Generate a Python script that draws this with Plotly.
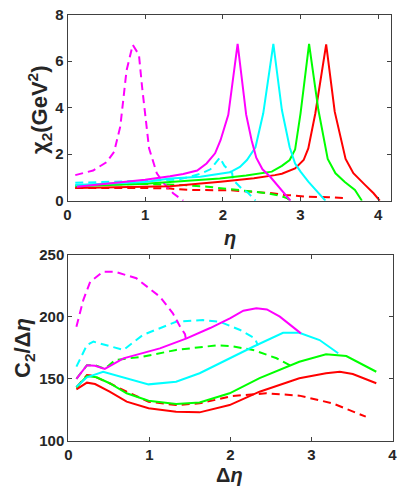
import plotly.graph_objects as go

# ---------------- top panel data (eta, chi2) ----------------
top_red_solid_x = [0.1, 0.5, 1.0, 1.32, 1.97, 2.4, 2.67, 2.76, 2.93, 3.04, 3.10, 3.19, 3.33, 3.44, 3.58, 3.68, 3.83, 3.94, 4.02]
top_red_solid_y = [0.55, 0.57, 0.6, 0.62, 0.82, 0.97, 1.1, 1.16, 1.39, 1.75, 2.25, 3.75, 6.72, 3.83, 1.8, 1.18, 0.68, 0.32, 0.0]

top_green_solid_x = [0.1, 0.5, 1.0, 1.32, 1.96, 2.3, 2.63, 2.76, 2.86, 2.93, 3.0, 3.11, 3.23, 3.35, 3.45, 3.57, 3.70, 3.79]
top_green_solid_y = [0.62, 0.66, 0.73, 0.8, 0.96, 1.08, 1.25, 1.5, 1.75, 2.2, 3.76, 6.74, 3.9, 1.8, 1.18, 0.8, 0.46, 0.0]

top_cyan_solid_x = [0.1, 0.5, 1.0, 1.32, 1.71, 2.09, 2.22, 2.31, 2.42, 2.52, 2.65, 2.76, 2.86, 2.93, 3.0, 3.10, 3.23, 3.32]
top_cyan_solid_y = [0.68, 0.72, 0.8, 0.95, 1.03, 1.22, 1.45, 1.75, 2.3, 3.76, 6.74, 3.9, 2.3, 1.6, 1.25, 0.82, 0.32, 0.0]

top_magenta_solid_x = [0.12, 0.5, 1.0, 1.32, 1.49, 1.67, 1.79, 1.90, 1.97, 2.07, 2.19, 2.30, 2.37, 2.43, 2.51, 2.61, 2.69, 2.80, 2.87]
top_magenta_solid_y = [0.6, 0.72, 0.9, 1.05, 1.15, 1.3, 1.6, 2.04, 2.6, 3.69, 6.74, 3.7, 2.6, 1.85, 1.35, 1.03, 0.7, 0.25, 0.0]

top_red_dash_x = [0.1, 0.5, 1.0, 1.32, 1.58, 2.09, 2.35, 2.61, 2.8, 3.1, 3.36, 3.6]
top_red_dash_y = [0.55, 0.56, 0.55, 0.52, 0.46, 0.45, 0.39, 0.33, 0.25, 0.17, 0.15, 0.1]

top_green_dash_x = [0.1, 0.5, 1.0, 1.5, 1.8, 2.09, 2.31, 2.57, 2.75, 2.83, 2.87]
top_green_dash_y = [0.65, 0.7, 0.72, 0.67, 0.6, 0.48, 0.42, 0.32, 0.2, 0.1, 0.0]

top_cyan_dash_x = [0.1, 0.5, 1.0, 1.4, 1.58, 1.73, 1.84, 1.96, 2.02, 2.12, 2.13, 2.24, 2.33, 2.42]
top_cyan_dash_y = [0.77, 0.8, 0.85, 0.9, 1.03, 1.18, 1.35, 1.85, 1.5, 1.18, 0.9, 0.53, 0.32, 0.0]

top_magenta_dash_x = [0.1, 0.33, 0.5, 0.6, 0.68, 0.76, 0.84, 0.92, 0.96, 1.0, 1.05, 1.15, 1.24, 1.36, 1.49]
top_magenta_dash_y = [1.1, 1.3, 1.65, 2.1, 3.2, 5.6, 6.7, 6.27, 4.9, 3.6, 2.25, 1.18, 0.75, 0.32, 0.0]

# ---------------- bottom panel data (delta eta, C2/delta eta) ----------------
bot_red_solid_x = [0.1, 0.23, 0.33, 0.51, 0.72, 0.99, 1.33, 1.62, 1.99, 2.36, 2.85, 3.18, 3.35, 3.51, 3.8]
bot_red_solid_y = [141.5, 146.9, 145.8, 139.6, 131.5, 126.2, 123.4, 122.9, 128.8, 139.6, 150.4, 154.5, 155.7, 153.9, 146.4]

bot_green_solid_x = [0.1, 0.23, 0.35, 0.51, 0.72, 0.99, 1.33, 1.62, 1.99, 2.36, 2.85, 3.18, 3.43, 3.8]
bot_green_solid_y = [143.0, 152.3, 151.2, 146.4, 138.3, 132.3, 129.6, 130.8, 138.3, 150.5, 163.8, 169.8, 168.4, 155.7]

bot_cyan_solid_x = [0.1, 0.23, 0.43, 0.72, 0.99, 1.33, 1.62, 1.95, 2.28, 2.65, 2.85, 3.10, 3.33]
bot_cyan_solid_y = [143.6, 151.2, 155.7, 150.4, 145.5, 147.7, 154.5, 165.2, 175.9, 187.2, 187.2, 181.3, 170.6]

bot_magenta_solid_x = [0.1, 0.23, 0.33, 0.45, 0.68, 1.13, 1.46, 1.75, 2.0, 2.16, 2.32, 2.45, 2.61, 2.87]
bot_magenta_solid_y = [150.0, 161.0, 160.5, 158.0, 166.5, 174.6, 182.7, 191.0, 199.0, 205.0, 207.0, 206.0, 200.2, 186.7]

bot_red_dash_x = [0.1, 0.23, 0.3, 0.51, 0.72, 0.99, 1.33, 1.62, 2.03, 2.44, 2.85, 3.26, 3.67]
bot_red_dash_y = [143.0, 153.0, 152.5, 146.4, 139.6, 131.5, 128.8, 130.2, 136.1, 138.3, 136.4, 130.2, 119.4]

bot_green_dash_x = [0.1, 0.23, 0.33, 0.45, 0.58, 0.92, 1.33, 1.83, 2.0, 2.28, 2.57, 2.75, 2.76]
bot_green_dash_y = [150.0, 161.0, 161.0, 158.0, 165.2, 167.9, 173.3, 177.0, 176.5, 173.3, 166.6, 160.3, 157.5]

bot_cyan_dash_x = [0.1, 0.23, 0.31, 0.68, 0.92, 1.33, 1.66, 1.87, 2.12, 2.30, 2.34]
bot_cyan_dash_y = [159.8, 177.3, 180.0, 173.3, 185.4, 196.1, 197.5, 196.1, 189.4, 182.7, 177.0]

bot_magenta_dash_x = [0.1, 0.185, 0.27, 0.43, 0.575, 0.84, 1.13, 1.29, 1.38, 1.44, 1.45]
bot_magenta_dash_y = [192.1, 213.6, 228.4, 236.5, 236.5, 231.2, 216.3, 202.9, 192.1, 186.0, 182.5]

x_ticks = [0, 1, 2, 3, 4]
top_y_ticks = [0, 2, 4, 6, 8]
bot_y_ticks = [100, 150, 200, 250]

RED, GREEN, CYAN, MAGENTA = "#FF0000", "#00FF00", "#00FFFF", "#FF00FF"
DASH = "8px,5px"
LW = 2

fig = go.Figure()

def add(x, y, color, dash, ax):
    fig.add_trace(go.Scatter(x=x, y=y, mode="lines",
                             line=dict(color=color, width=LW, dash=dash),
                             xaxis="x" if ax == 1 else "x2",
                             yaxis="y" if ax == 1 else "y2",
                             showlegend=False, hoverinfo="skip"))

# top panel
add(top_red_dash_x, top_red_dash_y, RED, DASH, 1)
add(top_green_dash_x, top_green_dash_y, GREEN, DASH, 1)
add(top_cyan_dash_x, top_cyan_dash_y, CYAN, DASH, 1)
add(top_magenta_dash_x, top_magenta_dash_y, MAGENTA, DASH, 1)
add(top_red_solid_x, top_red_solid_y, RED, "solid", 1)
add(top_green_solid_x, top_green_solid_y, GREEN, "solid", 1)
add(top_cyan_solid_x, top_cyan_solid_y, CYAN, "solid", 1)
add(top_magenta_solid_x, top_magenta_solid_y, MAGENTA, "solid", 1)

# bottom panel
add(bot_red_dash_x, bot_red_dash_y, RED, DASH, 2)
add(bot_green_dash_x, bot_green_dash_y, GREEN, DASH, 2)
add(bot_cyan_dash_x, bot_cyan_dash_y, CYAN, DASH, 2)
add(bot_magenta_dash_x, bot_magenta_dash_y, MAGENTA, DASH, 2)
add(bot_red_solid_x, bot_red_solid_y, RED, "solid", 2)
add(bot_green_solid_x, bot_green_solid_y, GREEN, "solid", 2)
add(bot_cyan_solid_x, bot_cyan_solid_y, CYAN, "solid", 2)
add(bot_magenta_solid_x, bot_magenta_solid_y, MAGENTA, "solid", 2)

W, H = 399, 500
FONT = "Liberation Sans, Arial, sans-serif"
TXT = "#262626"
AXC = "#404040"
tickfont = dict(family=FONT, size=15, color=TXT, weight="bold")

axis_common = dict(showline=True, linecolor=AXC, linewidth=1, mirror="ticks",
                   ticks="inside", ticklen=4, tickcolor=AXC, tickwidth=1,
                   showgrid=False, zeroline=False, tickfont=tickfont,
                   automargin=False)

fig.update_layout(
    width=W, height=H,
    margin=dict(l=0, r=0, t=0, b=0),
    paper_bgcolor="white", plot_bgcolor="white",
    xaxis=dict(domain=[67.5 / W, 390.8 / W], range=[0, 4.162], tickvals=x_ticks,
               anchor="y", **axis_common),
    yaxis=dict(domain=[1 - 200.7 / H, 1 - 14.7 / H], range=[0, 8], tickvals=top_y_ticks,
               anchor="x", **axis_common),
    xaxis2=dict(domain=[68.3 / W, 392.5 / W], range=[0, 4], tickvals=x_ticks,
                anchor="y2", **axis_common),
    yaxis2=dict(domain=[1 - 440.7 / H, 1 - 255 / H], range=[100, 250], tickvals=bot_y_ticks,
                anchor="x2", **axis_common),
)

def title(text, px, py, size, angle=0):
    fig.add_annotation(text=text, x=px / W, y=1 - py / H, xref="paper", yref="paper",
                       xanchor="center", yanchor="middle", showarrow=False,
                       textangle=angle,
                       font=dict(family=FONT, size=size, color=TXT, weight="bold"))

title("<b><i>η</i></b>", 230, 238, 20)
title("<b>χ<sub>2</sub>(GeV<sup>2</sup>)</b>", 40, 110, 22, -90)
title("<b>Δ<i>η</i></b>", 229, 475, 20)
title("<b>C<sub>2</sub>/Δ<i>η</i></b>", 24, 348, 22, -90)

fig.write_html("out.html", config={"displayModeBar": False},
               post_script="document.body.style.margin='0';document.body.style.padding='0';")
